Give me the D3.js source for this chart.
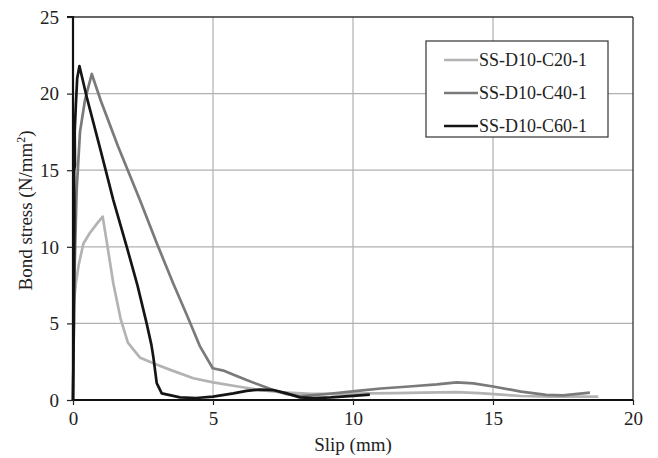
<!DOCTYPE html>
<html><head><meta charset="utf-8">
<script src="https://cdn.jsdelivr.net/npm/d3@7"></script>
<style>body{margin:0;background:#fff}svg{display:block}svg text{font-family:"Liberation Serif","Tinos","Times New Roman",Times,"DejaVu Serif",serif !important;fill:#222}</style>
</head><body><svg id="c" width="658" height="458"></svg>
<script>
const seriesNames = ["SS-D10-C20-1","SS-D10-C40-1","SS-D10-C60-1"];
const seriesColors = ["#b3b3b3","#7a7a7a","#151515"];
const xTicks = [0,5,10,15,20];
const yTicks = [0,5,10,15,20,25];
const c20 = [[0,0],[0.01,5.9],[0.1,7.6],[0.2,8.8],[0.37,10.2],[0.6,10.9],[0.85,11.5],[1.06,11.97],[1.2,10.4],[1.44,7.6],[1.7,5.3],[1.96,3.74],[2.4,2.75],[3,2.3],[3.5,1.95],[4.3,1.42],[5,1.15],[6,0.85],[6.7,0.65],[7.5,0.5],[8.5,0.4],[9.5,0.4],[10.5,0.43],[11.5,0.45],[12.5,0.48],[13.7,0.52],[14.5,0.45],[15.3,0.35],[16,0.26],[17,0.22],[18.76,0.22]];
const c40 = [[0,0],[0.05,8],[0.13,13.7],[0.25,17.5],[0.43,19.6],[0.67,21.28],[1.0,19.5],[1.6,16.6],[2.39,13.05],[3.0,10.2],[3.58,7.6],[4.1,5.4],[4.54,3.48],[4.99,2.07],[5.37,1.92],[5.8,1.6],[6.2,1.3],[7.15,0.65],[7.6,0.4],[8.1,0.25],[8.5,0.3],[9.06,0.39],[10.25,0.61],[11,0.75],[12,0.88],[13,1.02],[13.7,1.15],[14.3,1.08],[15,0.88],[16,0.55],[16.9,0.33],[17.5,0.3],[18.46,0.48]];
const c60 = [[0,0],[0.03,5],[0.05,12],[0.04,15],[0.07,15.3],[0.06,17.5],[0.1,19.2],[0.15,21],[0.23,21.8],[0.5,19.7],[1.0,16.2],[1.44,13.05],[1.92,10],[2.3,7.5],[2.63,5.0],[2.8,3.6],[2.87,2.8],[2.99,1.1],[3.17,0.43],[3.5,0.3],[3.82,0.17],[4.4,0.13],[5,0.22],[5.73,0.43],[6.2,0.6],[6.68,0.68],[7.15,0.65],[7.6,0.45],[8.1,0.17],[8.6,0.12],[9.2,0.17],[10,0.27],[10.6,0.35]];
const seriesData = [c20,c40,c60];

const svg = d3.select("#c");
const L=73,R=633,T=17,B=400;
const x = d3.scaleLinear().domain([0,20]).range([L,R]);
const y = d3.scaleLinear().domain([0,25]).range([B,T]);

// grid
svg.append("g").selectAll("line").data(xTicks.filter(d=>d>0&&d<20)).join("line")
  .attr("x1",d=>x(d)).attr("x2",d=>x(d)).attr("y1",T).attr("y2",B).attr("stroke","#b0b0b0").attr("stroke-width",1.2);
svg.append("g").selectAll("line").data(yTicks.filter(d=>d>0&&d<25)).join("line")
  .attr("y1",d=>y(d)).attr("y2",d=>y(d)).attr("x1",L).attr("x2",R).attr("stroke","#b0b0b0").attr("stroke-width",1.2);
// frame top/right
svg.append("line").attr("x1",L).attr("x2",R).attr("y1",T).attr("y2",T).attr("stroke","#333").attr("stroke-width",1.3);
svg.append("line").attr("x1",R).attr("x2",R).attr("y1",T).attr("y2",B).attr("stroke","#333").attr("stroke-width",1.3);

// lines
const line = d3.line().x(d=>x(d[0])).y(d=>y(d[1]));
seriesData.forEach((d,i)=>{
  svg.append("path").datum(d).attr("d",line).attr("fill","none")
    .attr("stroke",seriesColors[i]).attr("stroke-width",2.7).attr("stroke-linejoin","round");
});

// axes
const xAxis = d3.axisBottom(x).tickValues(xTicks).tickSize(5).tickPadding(7);
const yAxis = d3.axisLeft(y).tickValues(yTicks).tickSize(6).tickPadding(8);
const gx = svg.append("g").attr("transform",`translate(0,${B})`).call(xAxis);
const gy = svg.append("g").attr("transform",`translate(${L},0)`).call(yAxis);
[gx,gy].forEach(g=>{
  g.attr("font-family",null).attr("font-size",null);
  g.select(".domain").attr("stroke","#111").attr("stroke-width",2.2);
  g.selectAll(".tick line").attr("stroke","#222").attr("stroke-width",1.2);
  g.selectAll(".tick text").style("font-size","19px").attr("fill","#222");
});
gy.select(".domain").attr("d",`M-6,${T}H0V${B}`);
gx.select(".domain").attr("d",`M${L},0H${R}V0`);
gy.selectAll(".tick text").attr("dy","0.33em");

// titles
svg.append("text").attr("x",x(10)).attr("y",451).attr("text-anchor","middle").style("font-size","19px").text("Slip (mm)");
const yt = svg.append("text").attr("transform",`translate(32,${(T+B)/2+2}) rotate(-90)`).attr("text-anchor","middle").style("font-size","19px");
yt.append("tspan").text("Bond stress (N/mm");
yt.append("tspan").attr("dy","-7").style("font-size","12px").text("2");
yt.append("tspan").attr("dy","7").text(")");

// legend
const lg = svg.append("g");
lg.append("rect").attr("x",426).attr("y",41).attr("width",182).attr("height",96).attr("fill","#fff").attr("stroke","#333").attr("stroke-width",1.2);
const ly = [60,93,126];
seriesNames.forEach((n,i)=>{
  lg.append("line").attr("x1",444).attr("x2",478).attr("y1",ly[i]).attr("y2",ly[i]).attr("stroke",seriesColors[i]).attr("stroke-width",2.7);
  lg.append("text").attr("x",479).attr("y",ly[i]).attr("dy","0.33em").style("font-size","18px").text(n);
});
</script></body></html>
